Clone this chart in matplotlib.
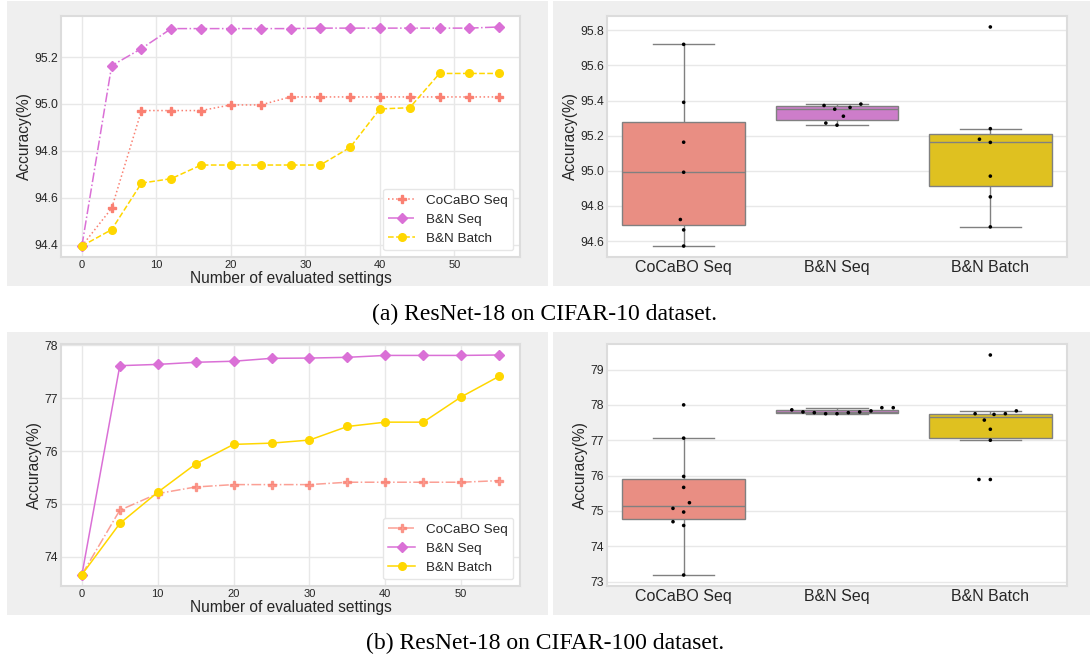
import numpy as np
import pandas as pd
import matplotlib
matplotlib.use("Agg")
import matplotlib.pyplot as plt
import seaborn as sns
from matplotlib.patches import Rectangle

methods = ["CoCaBO Seq", "B&N Seq", "B&N Batch"]

# (a) ResNet-18 / CIFAR-10 : best accuracy so far
steps10 = [0, 4, 8, 12, 16, 20, 24, 28, 32, 36, 40, 44, 48, 52, 56]
cocabo_seq10 = [94.395, 94.556, 94.972, 94.972, 94.972, 94.996, 94.996, 95.03,
                95.03, 95.03, 95.03, 95.03, 95.03, 95.03, 95.03]
bn_seq10 = [94.395, 95.163, 95.236, 95.321, 95.321, 95.321, 95.321, 95.321,
            95.323, 95.323, 95.323, 95.323, 95.323, 95.323, 95.328]
bn_batch10 = [94.395, 94.465, 94.663, 94.682, 94.74, 94.74, 94.74, 94.74,
              94.74, 94.815, 94.979, 94.984, 95.13, 95.13, 95.13]

# final accuracies of repeated runs
box_cocabo10 = [95.72, 95.39, 95.163, 94.992, 94.723, 94.664, 94.572]
box_bn_seq10 = [95.38, 95.372, 95.361, 95.351, 95.311, 95.272, 95.26]
box_bn_batch10 = [95.819, 95.24, 95.18, 95.162, 94.97, 94.852, 94.681]

# (b) ResNet-18 / CIFAR-100
steps100 = [0, 5, 10, 15, 20, 25, 30, 35, 40, 45, 50, 55]
cocabo_seq100 = [73.66, 74.88, 75.195, 75.32, 75.365, 75.365, 75.365, 75.41,
                 75.41, 75.41, 75.41, 75.44]
bn_seq100 = [73.654, 77.616, 77.64, 77.68, 77.70, 77.755, 77.76, 77.774,
             77.81, 77.81, 77.81, 77.818]
bn_batch100 = [73.66, 74.629, 75.22, 75.755, 76.126, 76.15, 76.208, 76.465,
               76.547, 76.547, 77.025, 77.415]

box_cocabo100 = [78.0, 77.06, 75.977, 75.667, 75.234, 75.074, 74.97, 74.697, 74.59, 73.19]
box_bn_seq100 = [77.86, 77.80, 77.80, 77.78, 77.75, 77.75, 77.78, 77.83, 77.92, 77.92]
box_bn_batch100 = [79.41, 77.83, 77.73, 77.75, 77.75, 77.57, 77.31, 77.0, 75.89, 75.89]

colors = ["salmon", "orchid", "gold"]
gray_line = "#808080"

plt.rcParams.update({
    "font.family": ["Liberation Sans", "DejaVu Sans"],
    "text.color": ".15", "axes.labelcolor": ".15",
    "xtick.color": ".15", "ytick.color": ".15",
    "axes.edgecolor": "#dcdcdc", "axes.linewidth": 1.5,
    "grid.color": "#e8e8e8", "grid.linewidth": 1.0,
    "xtick.major.size": 0, "ytick.major.size": 0,
    "xtick.major.pad": 2, "ytick.major.pad": 2,
    "axes.labelpad": 2,
})

W, H = 1090, 655
fig = plt.figure(figsize=(W / 100, H / 100), dpi=100)


def rect(x0, y0, x1, y1):
    return [x0 / W, 1 - y1 / H, (x1 - x0) / W, (y1 - y0) / H]


# gray panel backgrounds
for x0, x1 in [(7, 548), (553, 1090)]:
    for y0, y1 in [(1, 286), (332, 615)]:
        l, b, w, h = rect(x0, y0, x1, y1)
        fig.patches.append(Rectangle((l, b), w, h, transform=fig.transFigure,
                                     facecolor="#efefef", edgecolor="none", zorder=-10))


def line_panel(ax, steps, series, styles):
    for label, vals, color, (ls, marker, ms, alpha) in zip(methods, series, colors, styles):
        ax.plot(steps, vals, linestyle=ls, marker=marker, markersize=ms, color=color,
                lw=1.1, alpha=alpha, label=label)
    ax.grid(True)
    ax.set_axisbelow(True)
    ax.set_xlabel("Number of evaluated settings", fontsize=11.2, labelpad=1)
    ax.set_ylabel("Accuracy(%)", fontsize=11.2)
    ax.tick_params(axis="x", labelsize=8)
    ax.tick_params(axis="y", labelsize=8.7)
    ax.legend(loc="lower right", fontsize=9.7, frameon=True, facecolor="white",
              edgecolor="#e6e6e6", framealpha=1)


def box_panel(ax, groups):
    df = pd.DataFrame({
        "method": np.repeat(methods, [len(g) for g in groups]),
        "acc": np.concatenate(groups),
    })
    sns.boxplot(data=df, x="method", y="acc", hue="method", palette=colors,
                saturation=0.75, width=0.8, showfliers=False, linewidth=1,
                legend=False, ax=ax)
    for ln in ax.lines:
        ln.set_color(gray_line)
    for p in ax.patches:
        p.set_edgecolor(gray_line)
    sns.swarmplot(data=df, x="method", y="acc", color="k", size=2.6,
                  linewidth=5.2, edgecolor="none", ax=ax)
    ax.grid(True, axis="y")
    ax.grid(False, axis="x")
    ax.set_axisbelow(True)
    ax.set_xlabel("")
    ax.set_ylabel("Accuracy(%)", fontsize=11.2)
    ax.tick_params(axis="x", labelsize=11.5)
    ax.tick_params(axis="y", labelsize=8.7)


ax1 = fig.add_axes(rect(61, 16, 520, 257))
line_panel(ax1, steps10, [cocabo_seq10, bn_seq10, bn_batch10],
           [(":", "P", 5.5, 1.0), ("-.", "D", 5, 1.0), ("--", "o", 5.5, 1.0)])
ax1.set_yticks([94.4, 94.6, 94.8, 95.0, 95.2])

ax2 = fig.add_axes(rect(607, 16, 1067, 257))
box_panel(ax2, [box_cocabo10, box_bn_seq10, box_bn_batch10])

ax3 = fig.add_axes(rect(61, 344, 520, 586))
line_panel(ax3, steps100, [cocabo_seq100, bn_seq100, bn_batch100],
           [("-.", "P", 5.5, 0.75), ("-", "D", 5, 1.0), ("-", "o", 5.5, 1.0)])

ax4 = fig.add_axes(rect(607, 344, 1067, 586))
box_panel(ax4, [box_cocabo100, box_bn_seq100, box_bn_batch100])

fig.text(0.5, 1 - 314 / H, "(a) ResNet-18 on CIFAR-10 dataset.", ha="center", va="center",
         family=["Liberation Serif", "DejaVu Serif"], fontsize=17, color="black")
fig.text(0.5, 1 - 643 / H, "(b) ResNet-18 on CIFAR-100 dataset.", ha="center", va="center",
         family=["Liberation Serif", "DejaVu Serif"], fontsize=17, color="black")

fig.savefig("out.png", dpi=100, facecolor="white")
